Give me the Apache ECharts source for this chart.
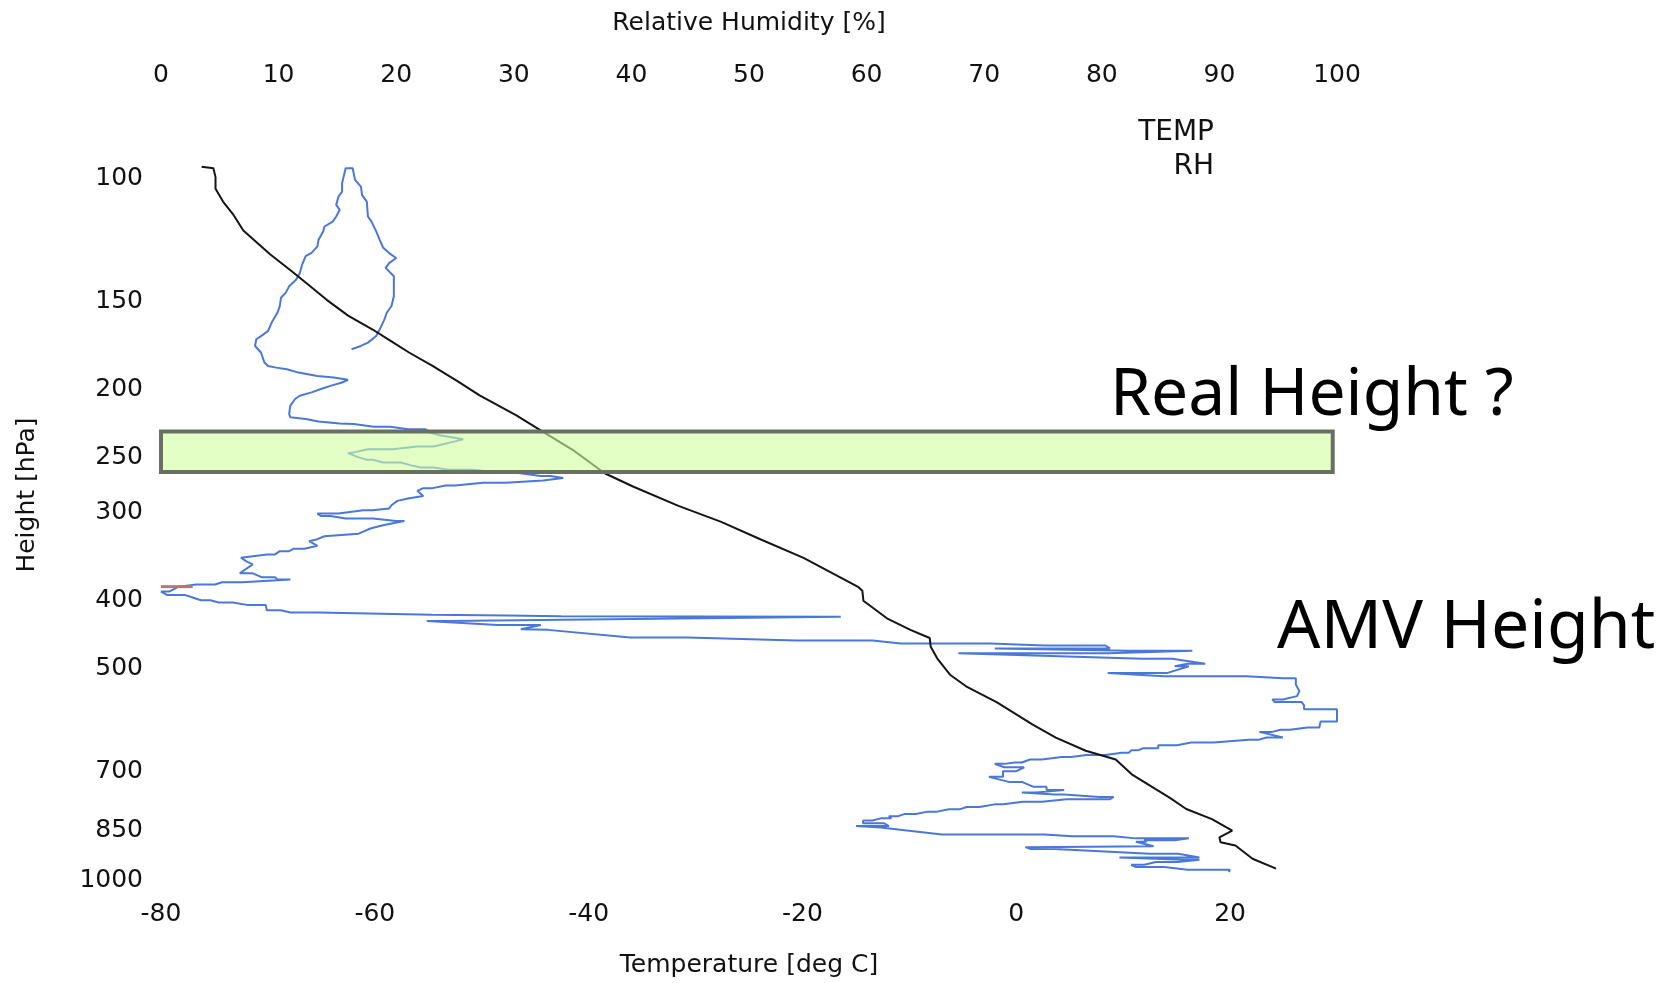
<!DOCTYPE html>
<html>
<head>
<meta charset="utf-8">
<title>Sounding profile</title>
<script src="https://cdn.jsdelivr.net/npm/echarts@6/dist/echarts.min.js"></script>
<style>
  html, body { margin: 0; padding: 0; background: #ffffff; }
  #chart { width: 1665px; height: 983px; }
</style>
</head>
<body>
<div id="chart"></div>
<script>
// Pressure levels shown on the vertical axis (hPa)
const pressureTicks = [100, 150, 200, 250, 300, 400, 500, 700, 850, 1000];
// Temperature axis ticks (deg C) and relative humidity ticks (%)
const tempTicks = [-80, -60, -40, -20, 0, 20];
const rhTicks = [0, 10, 20, 30, 40, 50, 60, 70, 80, 90, 100];

// Temperature profile: [pressure hPa, temperature deg C]
const tempProfile = [
  [97.3, -76.2], [97.8, -75.1], [100.7, -74.9], [104.6, -74.9], [109.1, -74.2],
  [114.1, -73.2], [120, -72.3], [129.7, -69.8], [137, -67.8], [143, -66.3],
  [150.6, -64.5], [158.6, -62.5], [166, -60.2], [172, -58.6], [179, -56.8],
  [187, -54.6], [197, -52.2], [206, -50.2], [219.8, -46.8], [232, -44.3],
  [246.3, -41.5], [266, -38.5], [278, -35.8], [296, -31.6], [312, -27.6],
  [330, -24.0], [351, -19.9], [376, -16.2], [386, -14.8], [391, -14.4],
  [404, -14.3], [428, -12.1], [444.6, -9.9], [456.6, -8.1], [470, -8.0],
  [488, -7.4], [515, -6.2], [535, -4.7], [564, -1.8], [606, 1.5],
  [633, 3.7], [661, 6.5], [680, 9.3], [714, 10.8], [749, 13.0],
  [770, 14.3], [800, 15.9], [827, 18.3], [859, 20.2], [878, 19.0],
  [892, 19.1], [902, 20.5], [942, 22.1], [973, 24.3]
];

// Relative humidity trace: [pressure hPa, RH %]
const rhProfile = [
  [177.1, 16.2], [175.2, 17.0], [173.3, 17.6], [169.6, 18.3], [165.9, 18.6],
  [160.6, 19.0], [157.1, 19.2], [153.7, 19.6], [148.8, 19.8], [139.4, 19.8],
  [135.6, 19.1], [133.5, 19.4], [131.3, 20.0], [129.2, 19.4], [127, 18.9],
  [123.7, 18.6], [120.3, 18.3], [116.5, 17.9], [114.6, 17.6], [109.1, 17.5],
  [106.8, 17.1], [103.9, 17.0], [101.6, 16.5], [97.8, 16.3], [97.8, 15.7],
  [98.4, 15.6], [102.7, 15.4], [105.6, 15.4], [107.3, 15.1], [110.3, 14.9],
  [112.1, 15.2], [114.6, 14.9], [116.5, 14.6], [118.4, 13.9], [120.3, 13.8],
  [123.7, 13.4], [126.4, 13.3], [129.1, 12.8], [130.5, 12.3], [134.2, 12.0],
  [137.9, 11.8], [140.9, 11.5], [144, 10.9], [147.2, 10.6], [149.6, 10.2],
  [153.7, 10.1], [157.1, 9.9], [162.4, 9.4], [166.9, 9.1], [169.6, 8.5],
  [171.4, 8.1], [175.2, 8.0], [179, 8.5], [185, 8.8], [187.1, 9.1],
  [188.1, 9.8], [189.1, 10.7], [191.2, 11.7], [193.3, 13.3], [194.3, 14.7],
  [195.8, 15.9], [197.5, 15.4], [199.7, 14.4], [201.8, 13.6], [204, 12.8],
  [206.3, 11.8], [208.5, 11.4], [213.1, 11.0], [219, 10.9], [221.4, 11.0],
  [222.6, 12.3], [224.5, 13.4], [225.9, 15.2], [226.3, 16.4], [228.3, 18.1],
  [228.3, 19.5], [230.2, 21.0], [230.2, 22.5], [233, 22.9], [235, 23.8],
  [237.9, 25.7], [239.6, 25.0], [243.6, 23.2], [243.6, 21.8], [245.9, 19.7],
  [245.9, 17.6], [248.4, 16.4], [249, 15.9], [252.5, 16.8], [254.5, 17.5],
  [254.5, 18.0], [256.8, 18.9], [256.8, 20.4], [259, 21.2], [261, 22.1],
  [261, 23.2], [263, 24.4], [263, 26.5], [265.8, 29.1], [265.8, 30.4],
  [268.3, 32.3], [268.3, 33.1], [270.2, 34.2], [272.3, 32.5], [274.5, 29.3],
  [274.5, 27.4], [276.9, 25.0], [276.9, 24.2], [279.3, 23.1], [279.3, 22.3],
  [281.8, 21.8], [286.5, 22.3], [289, 21.0], [291.2, 20.1], [295.4, 19.6],
  [298.5, 19.4], [300.4, 18.0], [300.4, 17.2], [303.6, 15.1], [303.6, 13.3],
  [306, 13.6], [306, 14.4], [308.6, 15.7], [308.6, 18.0], [311, 20.0],
  [311, 20.7], [313.7, 19.6], [316, 18.7], [318.8, 17.8], [321.6, 17.3],
  [324.3, 16.8], [327, 13.9], [330.2, 13.3], [332.4, 12.6], [337.4, 13.3],
  [340.7, 12.2], [340.7, 11.3], [343.4, 10.9], [343.4, 10.1], [347.1, 9.7],
  [347.1, 9.0], [350.9, 6.8], [355.5, 7.3], [358.6, 7.8], [369.3, 6.7],
  [369.3, 7.8], [374.2, 8.6], [374.2, 9.7], [377, 9.9], [377, 11.0],
  [380.3, 6.9], [380.3, 5.2], [383.2, 4.6], [383.2, 3.0], [385.8, 1.5],
  [392.1, 0.7], [392.1, 0.0], [396.4, 0.5], [396.4, 2.0], [399.9, 2.7],
  [403.4, 3.4], [403.4, 4.2], [406.4, 4.9], [406.4, 6.1], [409.6, 7.3],
  [409.6, 8.9], [416.8, 9.0], [416.8, 10.2], [420, 11.0], [420, 13.4],
  [423, 23.0], [424, 29.5], [425, 34.0], [426, 57.8], [432, 24.4],
  [432, 22.6], [437.5, 28.6], [437.5, 32.3], [443.6, 30.6], [444.6, 32.9],
  [456, 39.9], [456, 44.8], [460.5, 54.0], [460.5, 60.5], [465, 62.9],
  [465, 70.5], [468, 75.1], [468, 80.3], [472.5, 80.7], [472.5, 70.9],
  [476, 82.3], [476, 87.7], [480, 80.6], [480, 67.8], [488.7, 83.5],
  [488.7, 86.0], [496.7, 88.8], [496.7, 87.3], [501, 86.2], [501, 87.4],
  [512, 85.6], [512, 80.5], [517.7, 85.3], [517.7, 92.3], [521, 95.4],
  [521, 96.5], [531.8, 96.5], [543.5, 96.8], [552.5, 96.6], [558.5, 95.4],
  [558.5, 94.5], [563.4, 94.7], [563.4, 97.0], [569.6, 97.2], [577, 97.2],
  [577, 100], [600.6, 100], [600.6, 98.6], [612.5, 98.5], [612.5, 97.5],
  [617, 96.0], [617, 95.2], [621.3, 94.5], [621.3, 93.4], [633, 95.4],
  [633, 94.0], [637.7, 93.3], [637.7, 92.5], [643.4, 89.5], [643.4, 87.6],
  [649, 86.4], [649, 84.8], [655.5, 84.8], [655.5, 83.5], [660, 83.1],
  [660, 82.5], [665.4, 82.3], [665.4, 81.7], [670, 80.3], [670, 78.7],
  [674.5, 77.4], [674.5, 76.6], [680.3, 74.9], [680.3, 73.9], [687, 73.2],
  [687, 72.6], [690, 71.7], [690, 70.9], [697.7, 71.7], [697.7, 73.4],
  [707, 72.7], [707, 71.6], [720, 71.6], [720, 70.4], [732, 72.1],
  [732, 73.2], [744, 74.2], [744, 75.3], [752, 75.3], [752, 76.8],
  [758, 74.4], [758, 73.2], [763, 76.0], [763, 76.8], [769, 79.8],
  [769, 81.0], [775, 80.7], [775, 77.0], [781.5, 74.9], [781.5, 73.3],
  [788, 71.6], [788, 70.9], [795, 69.6], [795, 68.5], [801, 67.9],
  [801, 67.0], [807, 66.0], [807, 65.2], [813.5, 64.2], [813.5, 63.2],
  [819, 62.7], [819, 61.9], [825, 62.1], [825, 61.2], [831, 60.5],
  [831, 59.7], [838.7, 59.7], [838.7, 61.5], [846, 61.9], [846, 59.1],
  [850, 59.1], [850, 61.2], [870, 66.4], [870, 75.1], [875, 77.5],
  [875, 81.0], [881, 82.9], [881, 87.4], [886.6, 86.2], [886.6, 83.6],
  [891, 83.8], [891, 82.9], [904, 84.4], [906.8, 73.5], [912, 73.9],
  [912, 76.0], [926.8, 84.1], [926.8, 86.5], [937.8, 88.3], [937.8, 81.5],
  [945.3, 86.9], [945.3, 88.3], [952.3, 86.5], [952.3, 84.6], [960.6, 83.6],
  [960.6, 82.5], [967.8, 82.9], [967.8, 85.3], [976.3, 87.3], [976.3, 90.9],
  [984, 90.8]
];

// Short near-zero humidity stretch drawn in brown
const dryTrace = [[385.8, 0.0], [385.8, 2.7]];

// Pressure layer of the highlighted band (hPa)
const realHeightLayer = [232, 265];

const AXIS_FONT = 'DejaVu Sans';
const NOTE_FONT = '"Comic Sans MS", "Noto Sans", sans-serif';
const TEXT_COLOR = '#111';
const lg = Math.log10;

const toXY = rows => rows.map(([p, v]) => [v, lg(p)]);

const chart = echarts.init(document.getElementById('chart'), null, { renderer: 'canvas' });

const labelStyle = { fontFamily: AXIS_FONT, fontSize: 25, color: TEXT_COLOR };
const nameStyle = { fontFamily: AXIS_FONT, fontSize: 25, color: TEXT_COLOR };

function noteText(text, x, y, size, align) {
  return {
    type: 'text', x: x, y: y, z: 100,
    style: {
      text: text, align: align, verticalAlign: 'middle',
      textAlign: align, textVerticalAlign: 'middle',
      fontFamily: size > 40 ? NOTE_FONT : AXIS_FONT, fontSize: size,
      fill: size > 40 ? '#000' : TEXT_COLOR
    }
  };
}

chart.setOption({
  animation: false,
  backgroundColor: '#ffffff',
  grid: { left: 161, right: 328, top: 175, bottom: 103, containLabel: false },
  xAxis: [
    {
      type: 'value', position: 'bottom', min: -80, max: 30,
      name: 'Temperature [deg C]', nameLocation: 'middle', nameGap: 76,
      nameTextStyle: nameStyle,
      axisLine: { show: false }, axisTick: { show: false }, splitLine: { show: false },
      axisLabel: Object.assign({ margin: 25, customValues: tempTicks }, labelStyle)
    },
    {
      type: 'value', position: 'top', min: 0, max: 100,
      name: 'Relative Humidity [%]', nameLocation: 'middle', nameGap: 139,
      nameTextStyle: nameStyle,
      axisLine: { show: false }, axisTick: { show: false }, splitLine: { show: false },
      axisLabel: Object.assign({ margin: 87, customValues: rhTicks }, labelStyle)
    }
  ],
  yAxis: {
    type: 'value', min: 2, max: 3, inverse: true,
    name: 'Height [hPa]', nameLocation: 'middle', nameGap: 121, nameRotate: 90,
    nameTextStyle: Object.assign({ padding: [0, 0, 0, 62] }, nameStyle),
    axisLine: { show: false }, axisTick: { show: false }, splitLine: { show: false },
    axisLabel: Object.assign({
      margin: 18,
      verticalAlign: 'top',
      lineHeight: 6,
      customValues: pressureTicks.map(lg),
      formatter: v => String(Math.round(Math.pow(10, v)))
    }, labelStyle)
  },
  graphic: [
    noteText('TEMP', 1214, 133, 28, 'right'),
    noteText('RH', 1214, 167, 28, 'right'),
    noteText('Real Height ?', 1110, 396, 66, 'left'),
    noteText('AMV Height', 1277, 629, 68, 'left')
  ],
  series: [
    {
      name: 'RH', type: 'line', xAxisIndex: 1, yAxisIndex: 0,
      data: toXY(rhProfile), showSymbol: false, clip: false, z: 2,
      lineStyle: { color: '#4a78d8', width: 2 }
    },
    {
      name: 'dry', type: 'line', xAxisIndex: 1, yAxisIndex: 0,
      data: toXY(dryTrace), showSymbol: false, clip: false, z: 3,
      lineStyle: { color: '#b07a78', width: 3 }
    },
    {
      name: 'TEMP', type: 'line', xAxisIndex: 0, yAxisIndex: 0,
      data: toXY(tempProfile), showSymbol: false, clip: false, z: 4,
      lineStyle: { color: '#141414', width: 2 },
      markArea: {
        silent: true, z: 10,
        label: { show: false },
        itemStyle: { color: 'rgba(210,255,160,0.6)', borderColor: '#697063', borderWidth: 4 },
        data: [[
          { xAxis: -80.4, yAxis: lg(realHeightLayer[0]) },
          { xAxis: 29.6, yAxis: lg(realHeightLayer[1]) }
        ]]
      }
    }
  ]
});
</script>
</body>
</html>
